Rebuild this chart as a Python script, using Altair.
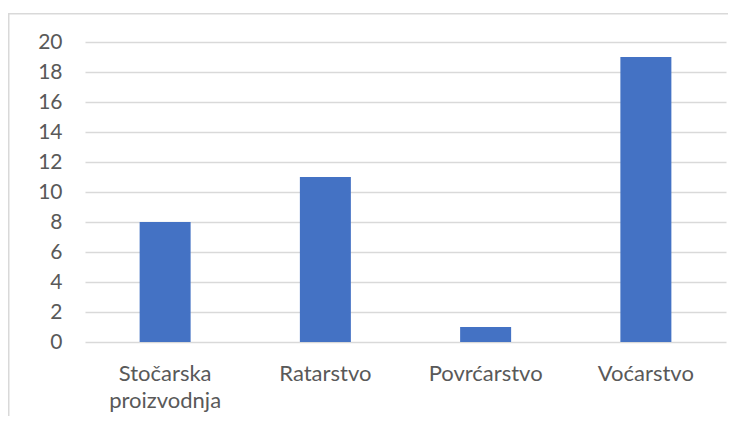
import altair as alt
import pandas as pd

categories = ["Stočarska proizvodnja", "Ratarstvo", "Povrćarstvo", "Voćarstvo"]
values = [8, 11, 1, 19]
y_ticks = list(range(0, 21, 2))

df = pd.DataFrame({"kategorija": categories, "broj": values})

FONT = "Lato"
GRAY = "#595959"

bars = alt.Chart(df).mark_bar(color="#4472C4", size=51).encode(
    x=alt.X(
        "kategorija:N",
        sort=categories,
        title=None,
        scale=alt.Scale(paddingInner=0, paddingOuter=0),
        axis=alt.Axis(
            labelAngle=0,
            domain=False,
            ticks=False,
            labelPadding=21,
            labelFontSize=22,
            labelFont=FONT,
            labelColor=GRAY,
            labelLineHeight=27,
            labelExpr="split(datum.label, ' ')",
        ),
    ),
    y=alt.Y(
        "broj:Q",
        title=None,
        scale=alt.Scale(domain=[0, 20], nice=False),
        axis=alt.Axis(
            values=y_ticks,
            domain=False,
            ticks=False,
            grid=True,
            gridColor="#d9d9d9",
            gridWidth=1.5,
            labelPadding=23,
            labelFontSize=21,
            labelFont=FONT,
            labelColor=GRAY,
        ),
    ),
)

frame = alt.Chart(pd.DataFrame({"a": [0]})).mark_rect(
    fill=None, stroke="#d9d9d9", strokeWidth=1.5, clip=False
).encode(
    x=alt.value(-76.25),
    x2=alt.value(720),
    y=alt.value(-28.25),
    y2=alt.value(450),
)

chart = alt.layer(frame, bars).properties(
    width=641,
    height=300,
    autosize=alt.AutoSizeParams(type="none"),
    padding={"left": 77, "top": 34, "right": 2, "bottom": 74},
).configure_view(stroke=None)

chart.save("out.html", embed_options={"renderer": "svg", "actions": False})
